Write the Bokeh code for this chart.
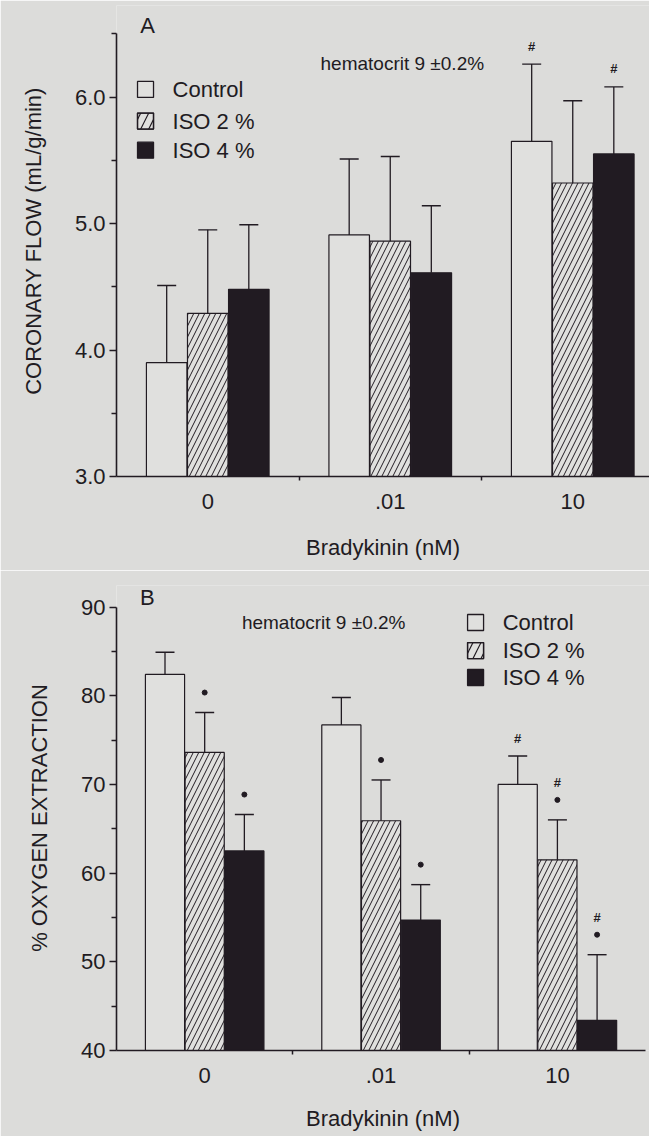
from bokeh.plotting import figure
from bokeh.models import Range1d, FixedTicker, NumeralTickFormatter
from bokeh.layouts import column
from bokeh.embed import file_html
from bokeh.resources import INLINE
from bokeh.core.properties import value

# ---------------- data ----------------
categories = ["0", ".01", "10"]
series = ["Control", "ISO 2 %", "ISO 4 %"]

# Panel A: coronary flow (mL/g/min), mean and SEM
flow_control = [3.90, 4.91, 5.65]
flow_iso2 = [4.29, 4.86, 5.32]
flow_iso4 = [4.48, 4.61, 5.55]
flow_control_err = [0.61, 0.60, 0.61]
flow_iso2_err = [0.66, 0.67, 0.65]
flow_iso4_err = [0.51, 0.53, 0.53]
flow_control_hash = [False, False, True]
flow_iso2_hash = [False, False, False]
flow_iso4_hash = [False, False, True]
flow_control_dot = [False, False, False]
flow_iso2_dot = [False, False, False]
flow_iso4_dot = [False, False, False]
flow_ticks = [3.0, 4.0, 5.0, 6.0]
flow_minor_ticks = [3.5, 4.5, 5.5, 6.5]

# Panel B: % oxygen extraction, mean and SEM
ext_control = [82.4, 76.7, 70.0]
ext_iso2 = [73.6, 65.9, 61.5]
ext_iso4 = [62.5, 54.7, 43.4]
ext_control_err = [2.5, 3.1, 3.2]
ext_iso2_err = [4.5, 4.6, 4.5]
ext_iso4_err = [4.1, 4.0, 7.4]
ext_control_hash = [False, False, True]
ext_iso2_hash = [False, False, True]
ext_iso4_hash = [False, False, True]
ext_control_dot = [False, False, False]
ext_iso2_dot = [True, True, True]
ext_iso4_dot = [True, True, True]
ext_ticks = [40, 50, 60, 70, 80, 90]
ext_minor_ticks = [45, 55, 65, 75, 85]

annotation_text = "hematocrit 9 ±0.2%"

# ---------------- style ----------------
BG = "#dcdcda"
INK = "#211b22"
FONT = "Liberation Sans"
FS = "22px"

fills = ["#e0e0de", "#e0e0de", INK]
hatches = [None, "/", None]
offsets = [-0.225, 0.0, 0.225]
BAR_W = 0.222


def make_panel(width, height, left, top, bottom, x_end, y_start, y_end, y_bounds,
               ticks, minor_ticks, fmt, ylabel, means, errs, hashes, dots, ppu,
               letter, letter_xy, hem_xy, legend_x, legend_text_x, legend_ys,
               xlab_standoff, xtitle_standoff):
    p = figure(width=width, height=height, output_backend="svg", toolbar_location=None,
               x_range=Range1d(0, x_end), y_range=Range1d(y_start, y_end),
               min_border_left=left, min_border_right=0, min_border_top=top,
               min_border_bottom=bottom)
    p.background_fill_color = BG
    p.border_fill_color = BG
    p.outline_line_color = None
    p.grid.visible = False

    # bars, error bars, significance marks
    for k in range(3):
        xs = [i + 0.5 + offsets[k] for i in range(len(categories))]
        tops = means[k]
        caps = [m + e for m, e in zip(means[k], errs[k])]
        kw = dict(fill_color=fills[k], line_color=INK, line_width=1.2)
        if hatches[k]:
            kw.update(hatch_pattern=hatches[k], hatch_color=INK, hatch_scale=11,
                      hatch_weight=1.0)
        p.vbar(x=xs, width=BAR_W, top=tops, bottom=y_start, **kw)
        p.segment(x0=xs, y0=tops, x1=xs, y1=caps, line_color=INK, line_width=1.3)
        p.scatter(x=xs, y=caps, marker="dash", size=19, line_color=INK, line_width=1.4)
        dx, dy, hx, hy = [], [], [], []
        for i in range(len(categories)):
            lift = 0.0
            if dots[k][i]:
                lift = 20 / ppu
                dx.append(xs[i]); dy.append(caps[i] + lift)
            if hashes[k][i]:
                hx.append(xs[i]); hy.append(caps[i] + lift + (17 if dots[k][i] else 18) / ppu)
        if dx:
            p.scatter(x=dx, y=dy, marker="circle", size=5, fill_color=INK, line_color=INK)
        if hx:
            p.text(x=hx, y=hy, text=["#"] * len(hx), text_font=value(FONT),
                   text_font_size="13px", text_font_style="bold", text_color=INK,
                   text_align="center", text_baseline="middle")

    # legend
    p.rect(x=[legend_x] * 3, y=legend_ys, width=16, height=16, width_units="screen",
           height_units="screen", fill_color=fills, line_color=INK, line_width=1.3)
    p.rect(x=[legend_x], y=[legend_ys[1]], width=16, height=16, width_units="screen",
           height_units="screen", fill_alpha=0, line_color=INK, line_width=1.3,
           hatch_pattern="/", hatch_color=INK, hatch_scale=16, hatch_weight=1.2)
    p.text(x=[legend_text_x] * 3, y=legend_ys, text=series, text_font=value(FONT),
           text_font_size=FS, text_color=INK, text_baseline="middle")

    p.text(x=[hem_xy[0]], y=[hem_xy[1]], text=[annotation_text], text_font=value(FONT),
           text_font_size="19px", text_color=INK, text_baseline="middle")
    p.text(x=[letter_xy[0]], y=[letter_xy[1]], text=[letter], text_font=value(FONT),
           text_font_size=FS, text_color=INK, text_baseline="middle")

    # axes
    xa = p.xaxis[0]
    xa.ticker = FixedTicker(ticks=[i + 0.5 for i in range(len(categories))],
                            minor_ticks=[i for i in range(1, len(categories))])
    xa.major_label_overrides = {i + 0.5: c for i, c in enumerate(categories)}
    xa.bounds = (0, len(categories))
    xa.major_tick_out = 0
    xa.major_tick_in = 0
    xa.minor_tick_out = 4
    xa.minor_tick_in = 0
    xa.major_label_standoff = xlab_standoff
    xa.axis_label = "Bradykinin (nM)"
    xa.axis_label_standoff = xtitle_standoff

    ya = p.yaxis[0]
    ya.ticker = FixedTicker(ticks=ticks, minor_ticks=minor_ticks)
    ya.formatter = NumeralTickFormatter(format=fmt)
    ya.bounds = y_bounds
    ya.major_tick_out = 7
    ya.major_tick_in = 0
    ya.minor_tick_out = 5
    ya.minor_tick_in = 0
    ya.major_label_standoff = 4
    ya.axis_label = ylabel
    ya.axis_label_standoff = 26

    for ax in (xa, ya):
        ax.axis_line_color = INK
        ax.axis_line_width = 1.6
        ax.major_tick_line_color = INK
        ax.major_tick_line_width = 1.5
        ax.minor_tick_line_color = INK
        ax.minor_tick_line_width = 1.5
        ax.major_label_text_font = FONT
        ax.major_label_text_font_size = FS
        ax.major_label_text_color = INK
        ax.axis_label_text_font = FONT
        ax.axis_label_text_font_size = FS
        ax.axis_label_text_font_style = "normal"
        ax.axis_label_text_color = INK
    return p


ppu_a = 126.5
pA = make_panel(649, 570, 116, 5, 94, 533 / 182.5, 3.0, 3.0 + 471 / ppu_a, (3.0, 6.5),
                flow_ticks, flow_minor_ticks, "0.0", "CORONARY FLOW (mL/g/min)",
                [flow_control, flow_iso2, flow_iso4],
                [flow_control_err, flow_iso2_err, flow_iso4_err],
                [flow_control_hash, flow_iso2_hash, flow_iso4_hash],
                [flow_control_dot, flow_iso2_dot, flow_iso4_dot], ppu_a,
                "A", (0.13, 6.565), (1.118, 6.265), 0.159, 0.307, [6.06, 5.81, 5.58],
                13, 23)

ppu_b = 8.87
pB = make_panel(649, 566, 105, 15, 86, 544 / 180.0, 40, 40 + 465 / ppu_b, (40, 90),
                ext_ticks, ext_minor_ticks, "0", "% OXYGEN EXTRACTION",
                [ext_control, ext_iso2, ext_iso4],
                [ext_control_err, ext_iso2_err, ext_iso4_err],
                [ext_control_hash, ext_iso2_hash, ext_iso4_hash],
                [ext_control_dot, ext_iso2_dot, ext_iso4_dot], ppu_b,
                "B", (0.133, 91.07), (0.711, 88.25), 2.036, 2.19, [88.25, 85.09, 82.05],
                13, 20)

layout = column(pA, pB, spacing=0)
open("out.html", "w").write(file_html(layout, INLINE))
